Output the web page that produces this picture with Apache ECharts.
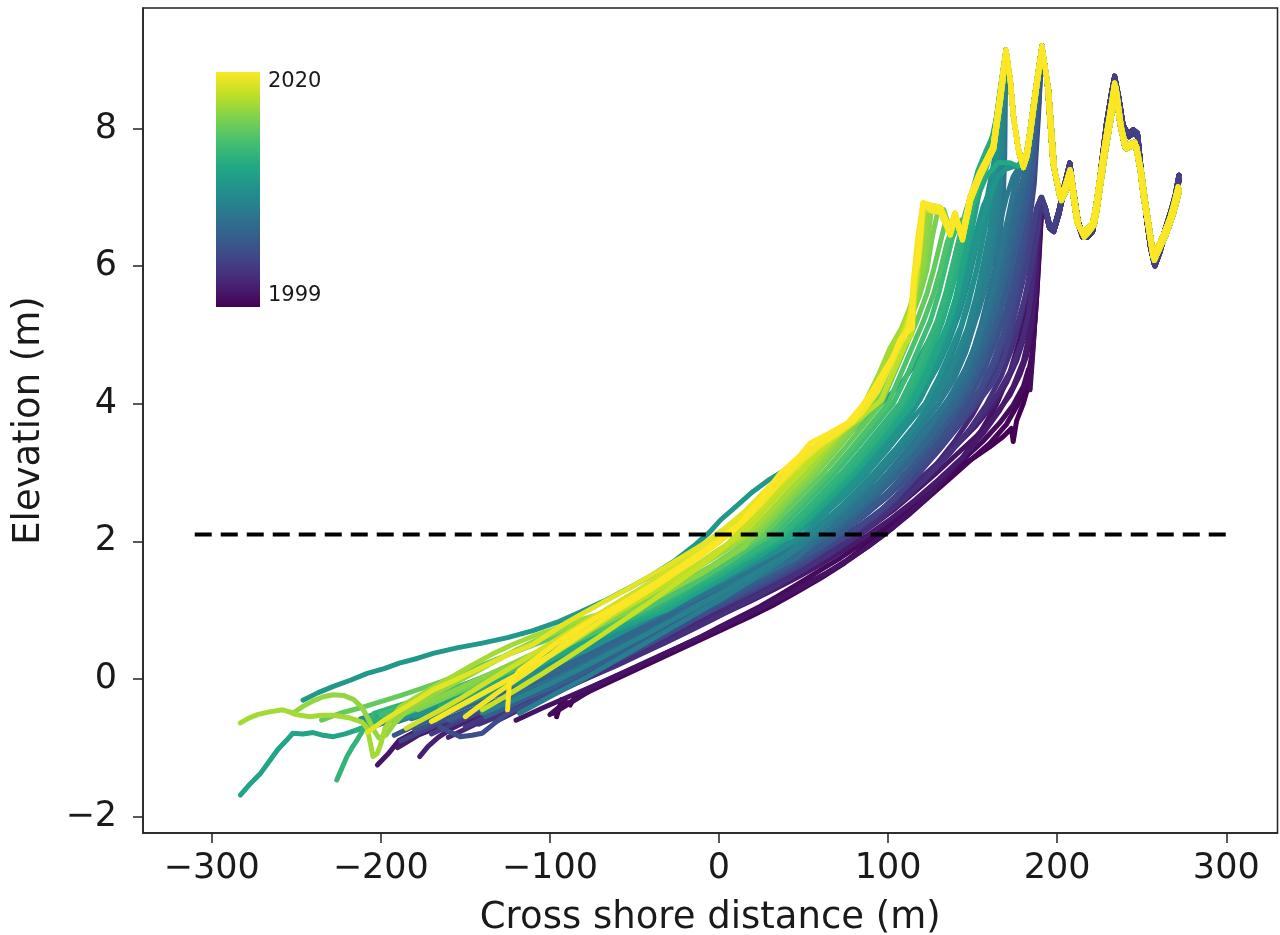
<!DOCTYPE html>
<html>
<head>
<meta charset="utf-8">
<script src="https://cdn.jsdelivr.net/npm/echarts@6/dist/echarts.min.js"></script>
<style>
html,body{margin:0;padding:0;background:#fff;}
#chart{width:1280px;height:935px;}
</style>
</head>
<body>
<div id="chart"></div>
<script>
// ---- axis ticks ----
const xTicks = [-300, -200, -100, 0, 100, 200, 300];
const yTicks = [-2, 0, 2, 4, 6, 8];
const yearRange = [1999, 2020];
// ---- reference (dashed) level ----
const refLevel = [[-310, 2.1], [300, 2.1]];

// ---- shared dune segments (read from the common upper profile) ----
const duneFace = [[126,6.88],[131,6.85],[136.6,6.53],[139.6,6.77],[143.7,6.43],[148.4,7.0],[154,7.35],[162,7.73],[166,8.46],[169.7,9.14]];
const duneFaceB = [[126,6.8],[131,6.78],[136.8,6.45],[139.8,6.7],[144,6.38],[148.8,6.95],[154.5,7.3],[162.5,7.7],[166.5,8.4],[170,9.1]];
const duneCrest = [[172,8.75],[174,8.2],[177,7.7],[179.8,7.5],[182,7.65],[184,7.98],[186,8.35],[188,8.7],[191,9.2]];
const duneCrestB = [[172.3,8.7],[174.3,8.15],[177.3,7.65],[180,7.43],[182.3,7.6],[184.3,7.93],[186.3,8.3],[188.3,8.66],[191.2,9.15]];
const tailNew = [[194,8.7],[197.5,7.5],[201.6,7.0],[204.5,7.15],[207.6,7.4],[209.5,7.0],[211.7,6.63],[215,6.48],[218,6.55],[221,6.63],[223,6.9],[225,7.25],[228,7.75],[231,8.2],[234,8.66],[237,8.08],[240,7.73],[243,7.78],[246,7.8],[249,7.4],[251,7.0],[253,6.7],[256.7,6.13],[260.8,6.34],[263.5,6.5],[266.7,6.7],[269,6.9],[271.5,7.15]];
const tailNewB = [[195,8.55],[198.5,7.4],[202.5,6.95],[205.5,7.1],[208.3,7.35],[210.5,6.95],[212.7,6.6],[216,6.42],[219,6.5],[222,6.6],[224,6.88],[226,7.22],[229,7.72],[232,8.15],[234.8,8.6],[238,8.02],[241,7.7],[244,7.74],[247,7.74],[250,7.35],[252,6.98],[254,6.65],[257.5,6.08],[261.5,6.3],[264.5,6.46],[267.5,6.66],[270,6.86],[272.3,7.1]];
const tailOld = [[193,6.85],[195.5,6.6],[198,6.55],[201,6.8],[204,7.15],[207.5,7.5],[210,7.05],[212.5,6.65],[215,6.45],[218,6.45],[221,6.55],[223.5,6.9],[226,7.45],[229,8.05],[232,8.5],[234,8.76],[236.5,8.45],[239,8.05],[242,7.92],[245,7.98],[247.5,7.93],[250,7.3],[252.5,6.75],[255,6.3],[257.5,6.02],[260.5,6.25],[264,6.55],[267.5,6.82],[270,7.05],[272,7.32]];
const tailOldB = [[193,6.8],[195.5,6.55],[198,6.5],[201,6.75],[204,7.08],[207.3,7.45],[210,7.0],[212.5,6.6],[215,6.42],[218,6.42],[221,6.5],[223.5,6.84],[226,7.38],[229,7.98],[232,8.44],[234.2,8.7],[236.7,8.4],[239.3,8.0],[242.3,7.88],[245.3,7.93],[247.8,7.88],[250.3,7.25],[252.8,6.7],[255.3,6.25],[257.8,6.0],[260.8,6.2],[264.3,6.5],[267.8,6.78],[270.3,7.0],[272.2,7.26]];

// ---- profiles (cross-shore distance m, elevation m), oldest first ----
const L01 = [[-96,-0.55],[-93,-0.3],[-88,-0.38],[-84,-0.22],[-78,-0.15],[-70,-0.06],[-60,0.05],[-50,0.16],[-40,0.27],[-31,0.38],[-20,0.5],[-10,0.6],[0,0.7],[8,0.81],[20,0.93],[30,1.05],[40,1.2],[48,1.34],[56,1.44],[64,1.54],[76,1.73],[85,1.9],[93,2.06],[100,2.18],[107,2.31],[115,2.5],[123,2.7],[132,2.9],[142,3.08],[151,3.22],[160,3.37],[168,3.52],[173,3.64],[174,3.45],[176,3.75],[180,4.0],[184,4.35],[186,4.9],[188,5.6],[189.5,6.3],[191,6.9]];
const L01b = [[-98,-0.5],[-90,-0.38],[-80,-0.22],[-66,-0.06],[-52,0.1],[-38,0.26],[-24,0.42],[-10,0.58],[4,0.74],[18,0.9],[32,1.07],[46,1.26],[60,1.46],[74,1.68],[88,1.92],[100,2.14],[112,2.38],[124,2.64],[136,2.9],[148,3.16],[160,3.42],[170,3.7],[177,4.0],[182,4.3],[185,4.7],[187.5,5.4],[189.5,6.2],[191,6.9]];
const L02 = [[-100,-0.52],[-94,-0.4],[-86,-0.32],[-78,-0.2],[-68,-0.05],[-58,0.06],[-46,0.2],[-34,0.34],[-22,0.48],[-10,0.62],[0,0.75],[12,0.9],[24,1.05],[36,1.22],[48,1.4],[60,1.58],[72,1.76],[84,1.96],[96,2.17],[108,2.4],[120,2.65],[132,2.92],[144,3.18],[156,3.45],[166,3.72],[174,3.98],[180,4.25],[183,4.5],[184,4.2],[185.5,4.7],[187,5.3],[188.5,6.0],[190,6.6],[191.5,6.95]];
const P01 = [[-120,-0.6],[-104,-0.42],[-88,-0.25],[-72,-0.08],[-56,0.1],[-40,0.28],[-24,0.46],[-8,0.64],[8,0.83],[24,1.02],[40,1.22],[56,1.43],[72,1.66],[88,1.92],[102,2.18],[116,2.48],[130,2.82],[143,3.18],[154,3.56],[164,3.98],[172,4.45],[178,4.95],[182.5,5.5],[186,6.1],[189,6.6],[191,6.95]];
const L03 = [[-202,-1.25],[-196,-1.1],[-189,-0.89],[-182,-0.8],[-172,-0.7],[-160,-0.6],[-148,-0.52],[-136,-0.42],[-124,-0.32],[-112,-0.22],[-100,-0.1],[-88,0.02],[-76,0.13],[-64,0.26],[-52,0.38],[-40,0.5],[-28,0.63],[-16,0.76],[-4,0.9],[8,1.04],[20,1.18],[32,1.33],[44,1.5],[56,1.67],[68,1.85],[80,2.04],[92,2.25],[104,2.47],[116,2.72],[128,2.98],[140,3.25],[152,3.52],[163,3.82],[172,4.12],[178,4.42],[182,4.7],[185,5.1],[187,5.7],[189,6.4],[190.5,6.95]];
const L03b = [[-190,-1.0],[-178,-0.82],[-164,-0.68],[-150,-0.56],[-136,-0.45],[-122,-0.33],[-108,-0.2],[-94,-0.07],[-80,0.06],[-66,0.2],[-52,0.35],[-38,0.5],[-24,0.65],[-10,0.8],[4,0.96],[18,1.12],[32,1.29],[46,1.47],[60,1.66],[74,1.87],[88,2.09],[102,2.33],[116,2.6],[130,2.9],[144,3.22],[156,3.56],[166,3.9],[174,4.25],[180,4.62],[184,5.05],[187,5.6],[189,6.3],[190.8,6.95]];
const L04 = [[-177,-1.13],[-172,-0.98],[-166,-0.85],[-158,-0.72],[-148,-0.6],[-136,-0.48],[-124,-0.36],[-112,-0.24],[-100,-0.12],[-88,0.0],[-76,0.12],[-64,0.25],[-52,0.39],[-40,0.53],[-28,0.67],[-16,0.81],[-4,0.96],[8,1.11],[20,1.27],[32,1.43],[44,1.6],[56,1.78],[68,1.97],[80,2.17],[92,2.38],[104,2.6],[116,2.85],[128,3.1],[140,3.38],[152,3.68],[162,3.98],[170,4.3],[176,4.62],[181,5.0],[184.5,5.5],[187,6.1],[189,6.6],[190.5,6.95]];
const P02 = [[-160,-0.85],[-144,-0.66],[-128,-0.48],[-112,-0.32],[-96,-0.16],[-80,0.0],[-64,0.17],[-48,0.35],[-32,0.53],[-16,0.72],[0,0.92],[16,1.12],[32,1.33],[48,1.55],[64,1.79],[80,2.05],[96,2.34],[112,2.68],[126,3.04],[139,3.44],[150,3.84],[159,4.25],[167,4.7],[174,5.2],[179,5.7],[183.5,6.2],[187,6.6],[190,6.95]];
const L05 = [[-132,-0.62],[-124,-0.52],[-116,-0.42],[-106,-0.31],[-96,-0.2],[-84,-0.06],[-72,0.08],[-60,0.22],[-48,0.36],[-36,0.5],[-24,0.65],[-12,0.8],[0,0.95],[12,1.1],[24,1.26],[36,1.43],[48,1.61],[60,1.8],[72,2.0],[84,2.21],[96,2.43],[108,2.67],[120,2.93],[132,3.2],[144,3.5],[155,3.82],[165,4.15],[173,4.5],[179,4.9],[183,5.3],[186,5.9],[188.5,6.5],[190,6.95]];
const L05b = [[-142,-0.66],[-130,-0.54],[-116,-0.4],[-102,-0.25],[-88,-0.1],[-74,0.05],[-60,0.2],[-46,0.36],[-32,0.52],[-18,0.69],[-4,0.86],[10,1.04],[24,1.22],[38,1.41],[52,1.61],[66,1.82],[80,2.05],[94,2.3],[108,2.58],[122,2.9],[136,3.26],[148,3.62],[158,3.98],[167,4.4],[174,4.85],[179,5.3],[183,5.8],[187,6.35],[190,6.9]];
const L06 = [[-150,-0.7],[-142,-0.6],[-132,-0.5],[-120,-0.38],[-108,-0.26],[-96,-0.13],[-84,0.0],[-72,0.14],[-60,0.28],[-48,0.43],[-36,0.58],[-24,0.74],[-12,0.9],[0,1.06],[12,1.22],[24,1.39],[36,1.57],[48,1.76],[60,1.96],[72,2.17],[84,2.39],[96,2.63],[108,2.88],[120,3.15],[132,3.44],[144,3.76],[154,4.08],[163,4.42],[171,4.8],[177,5.2],[182,5.65],[186,6.15],[189,6.6],[191,7.0]];
const L06b = [[-170,-0.8],[-156,-0.64],[-142,-0.5],[-128,-0.37],[-114,-0.24],[-100,-0.11],[-86,0.04],[-72,0.19],[-58,0.35],[-44,0.52],[-30,0.7],[-16,0.88],[-2,1.06],[12,1.25],[26,1.44],[40,1.64],[54,1.85],[68,2.07],[82,2.31],[96,2.58],[110,2.88],[124,3.22],[136,3.56],[147,3.92],[157,4.3],[165,4.72],[172,5.15],[177,5.6],[181,6.05],[185,6.5],[188,6.85],[190.5,7.0]];
const L07 = [[-188,-0.9],[-172,-0.72],[-156,-0.55],[-140,-0.4],[-124,-0.26],[-108,-0.12],[-94,-0.02],[-80,0.12],[-64,0.3],[-48,0.48],[-32,0.66],[-16,0.85],[0,1.04],[16,1.23],[32,1.43],[48,1.64],[62,1.86],[76,2.08],[90,2.32],[104,2.6],[118,2.98],[130,3.32],[142,3.68],[152,3.98],[162,4.3],[168,4.62],[172,5.0],[176,5.4],[179,5.75],[182,6.0],[185,6.45],[188,6.85],[190.5,7.0]];
const A01 = [[-158,-0.62],[-140,-0.45],[-120,-0.27],[-100,-0.09],[-80,0.12],[-60,0.34],[-40,0.58],[-20,0.82],[0,1.06],[20,1.3],[40,1.56],[60,1.84],[78,2.12],[96,2.46],[114,2.88],[130,3.32],[144,3.76],[155,4.18],[164,4.62],[171,5.1],[176,5.6],[180,6.1],[183.5,6.6],[186.5,7.2],[189,8.2],[191,9.2]];
const L08 = [[-165,-0.7],[-160,-0.76],[-153,-0.84],[-146,-0.82],[-140,-0.79],[-133,-0.65],[-125,-0.5],[-116,-0.4],[-106,-0.28],[-94,-0.14],[-82,0.0],[-70,0.15],[-58,0.3],[-46,0.45],[-34,0.6],[-22,0.76],[-10,0.92],[2,1.08],[14,1.25],[26,1.42],[38,1.6],[50,1.8],[62,1.98],[74,2.17],[86,2.38],[98,2.62],[110,2.88],[122,3.18],[134,3.5],[145,3.85],[154,4.2],[162,4.6],[168,5.0],[173,5.45],[177,5.9],[181,6.4],[184,6.9],[187,7.6],[189.5,8.5],[191,9.2]];
const L08b = [[-180,-0.75],[-166,-0.62],[-150,-0.48],[-134,-0.34],[-118,-0.2],[-102,-0.06],[-86,0.1],[-70,0.27],[-54,0.45],[-38,0.63],[-22,0.82],[-6,1.01],[10,1.2],[26,1.4],[42,1.62],[58,1.86],[72,2.1],[86,2.37],[100,2.66],[114,3.0],[127,3.36],[139,3.74],[149,4.12],[157,4.5],[164,4.92],[170,5.38],[175,5.85],[179,6.3],[182.5,6.8],[185.5,7.3],[188,8.0],[190,8.8],[191,9.2]];
const L09 = [[-192,-0.82],[-180,-0.68],[-166,-0.54],[-150,-0.4],[-134,-0.26],[-118,-0.12],[-102,0.02],[-86,0.18],[-70,0.36],[-54,0.54],[-38,0.72],[-22,0.9],[-6,1.08],[10,1.27],[26,1.47],[42,1.68],[56,1.88],[70,2.1],[84,2.36],[98,2.64],[111,3.0],[123,3.35],[134,3.68],[145,4.05],[153,4.4],[160,4.8],[165,5.2],[170,5.65],[174,6.05],[178,6.5],[181,6.95],[184,7.35],[187,8.0],[189.5,8.8],[191,9.2]];
const L09b = [[-160,-0.6],[-146,-0.46],[-130,-0.31],[-114,-0.16],[-98,0.0],[-82,0.17],[-66,0.35],[-50,0.53],[-34,0.72],[-18,0.91],[-2,1.1],[14,1.3],[30,1.5],[46,1.72],[60,1.92],[72,2.12],[86,2.4],[100,2.72],[113,3.06],[125,3.4],[136,3.76],[146,4.12],[154,4.5],[161,4.92],[167,5.38],[172,5.8],[176,6.25],[180,6.7],[183.5,7.15],[186.5,7.6],[189,8.4],[191,9.2]];
const L10 = [[-138,-0.55],[-126,-0.42],[-114,-0.28],[-100,-0.14],[-86,0.02],[-72,0.2],[-58,0.38],[-44,0.56],[-30,0.74],[-16,0.92],[-2,1.1],[12,1.3],[26,1.5],[40,1.7],[54,1.9],[67,2.1],[80,2.36],[93,2.66],[106,2.98],[118,3.32],[130,3.66],[141,4.0],[150,4.38],[157,4.8],[163,5.25],[168,5.7],[172,6.05],[176,6.5],[180,6.95],[183.5,7.4],[186.5,7.9],[189,8.6],[191,9.2]];
const L10b = [[-176,-0.62],[-162,-0.5],[-148,-0.37],[-134,-0.24],[-120,-0.1],[-106,0.04],[-92,0.19],[-78,0.35],[-64,0.52],[-50,0.69],[-36,0.86],[-22,1.03],[-8,1.2],[6,1.38],[20,1.56],[34,1.74],[48,1.93],[63,2.1],[77,2.36],[91,2.66],[104,2.98],[116,3.32],[128,3.66],[139,4.02],[148,4.4],[155,4.8],[161,5.22],[166,5.65],[170,6.05],[174,6.5],[178,6.95],[182,7.35],[185.5,7.75],[188.5,8.5],[191,9.2]];
const A02 = [[-168,-0.55],[-150,-0.4],[-130,-0.22],[-110,-0.03],[-90,0.18],[-70,0.4],[-50,0.63],[-30,0.86],[-10,1.1],[10,1.34],[30,1.6],[50,1.86],[66,2.1],[82,2.42],[98,2.78],[113,3.16],[127,3.56],[139,3.98],[149,4.42],[157,4.9],[164,5.4],[169,5.9],[173,6.35],[177,6.8],[181,7.25],[185,7.7],[188,8.4],[191,9.2]];
const L11 = [[-205,-0.7],[-192,-0.58],[-178,-0.47],[-164,-0.36],[-150,-0.24],[-136,-0.12],[-122,0.0],[-108,0.14],[-94,0.3],[-80,0.46],[-66,0.62],[-52,0.78],[-38,0.94],[-24,1.1],[-10,1.26],[4,1.42],[18,1.58],[32,1.74],[46,1.9],[60,2.06],[74,2.3],[88,2.6],[102,2.95],[114,3.3],[126,3.65],[137,4.0],[146,4.35],[153,4.75],[159,5.2],[164,5.6],[168,6.0],[172,6.45],[176,6.9],[180,7.3],[184,7.65],[187,8.3],[189.5,8.9],[191,9.2]];
const L11b = [[-150,-0.5],[-136,-0.38],[-122,-0.24],[-108,-0.1],[-94,0.05],[-80,0.21],[-66,0.38],[-52,0.55],[-38,0.72],[-24,0.9],[-10,1.07],[4,1.24],[18,1.41],[32,1.58],[46,1.76],[62,2.1],[76,2.36],[90,2.66],[103,3.0],[115,3.34],[126,3.68],[136,4.02],[145,4.38],[152,4.78],[158,5.2],[163,5.62],[167,6.05],[171,6.5],[174,6.95],[177,7.3]];
const L12 = [[-172,-0.52],[-158,-0.4],[-144,-0.27],[-130,-0.13],[-116,0.01],[-102,0.16],[-88,0.32],[-74,0.48],[-60,0.64],[-46,0.8],[-32,0.96],[-18,1.12],[-4,1.28],[10,1.44],[24,1.6],[38,1.77],[50,1.93],[61,2.1],[74,2.35],[87,2.64],[100,3.0],[112,3.35],[123,3.68],[134,4.0],[143,4.35],[150,4.75],[155,5.15],[159,5.55],[163,5.95],[166,6.4],[168,6.9],[169,7.6],[169.7,9.14]];
const A03 = [[-182,-0.58],[-162,-0.42],[-142,-0.24],[-122,-0.04],[-102,0.17],[-82,0.4],[-62,0.64],[-42,0.88],[-22,1.12],[-2,1.36],[18,1.6],[38,1.86],[58,2.14],[76,2.46],[94,2.84],[110,3.24],[124,3.66],[136,4.08],[146,4.52],[154,5.0],[160,5.5],[165,6.0],[169,6.5],[173,6.95],[176,7.3],[178.5,7.45]];
const L12b = [[-190,-0.62],[-176,-0.5],[-162,-0.38],[-148,-0.25],[-134,-0.12],[-120,0.02],[-106,0.17],[-92,0.33],[-78,0.5],[-64,0.67],[-50,0.84],[-36,1.01],[-22,1.18],[-8,1.35],[6,1.52],[20,1.7],[34,1.88],[47,2.05],[59,2.22],[72,2.5],[85,2.8],[98,3.14],[110,3.48],[121,3.82],[131,4.16],[140,4.52],[147,4.9],[153,5.3],[158,5.72],[162,6.15],[166,6.6],[170,7.0],[174,7.3],[177,7.42]];
const L13 = [[-118,-0.5],[-106,-0.34],[-94,-0.18],[-80,0.0],[-66,0.2],[-52,0.4],[-38,0.6],[-24,0.8],[-10,1.0],[4,1.2],[18,1.42],[32,1.64],[45,1.86],[57,2.1],[70,2.38],[83,2.66],[96,3.0],[108,3.34],[119,3.66],[130,4.0],[139,4.35],[146,4.75],[151,5.15],[156,5.6],[160,6.0],[163,6.45],[166,7.0],[168,7.6],[169.7,9.14]];
const L13b = [[-140,-0.5],[-126,-0.36],[-112,-0.21],[-98,-0.05],[-84,0.12],[-70,0.3],[-56,0.48],[-42,0.66],[-28,0.85],[-14,1.04],[0,1.23],[14,1.43],[28,1.63],[42,1.84],[55,2.1],[68,2.38],[81,2.68],[94,3.0],[106,3.34],[117,3.68],[127,4.02],[136,4.38],[143,4.78],[149,5.2],[154,5.62],[158,6.05],[162,6.5],[165,7.0],[167.5,7.6],[168.5,8.3],[169.7,9.14]];
const A04 = [[-176,-0.5],[-156,-0.33],[-136,-0.14],[-116,0.06],[-96,0.28],[-76,0.5],[-56,0.74],[-36,0.98],[-16,1.22],[4,1.46],[24,1.72],[44,1.98],[54,2.12],[70,2.44],[86,2.8],[101,3.2],[114,3.6],[125,4.02],[134,4.46],[141,4.92],[147,5.4],[152,5.9],[156,6.4],[160,6.9],[163.5,7.4],[166.5,8.0],[168.5,8.6],[170,9.1]];
const L14 = [[-212,-0.58],[-204,-0.52],[-194,-0.5],[-182,-0.45],[-170,-0.38],[-158,-0.28],[-146,-0.17],[-134,-0.05],[-120,0.1],[-106,0.26],[-92,0.42],[-78,0.58],[-64,0.74],[-50,0.88],[-36,1.04],[-22,1.2],[-8,1.37],[6,1.53],[20,1.7],[34,1.87],[46,2.0],[56,2.14],[68,2.4],[80,2.7],[92,3.0],[104,3.33],[115,3.66],[126,4.0],[134,4.35],[141,4.72],[147,5.1],[152,5.55],[156,6.0],[160,6.5],[163,7.0],[166,7.6],[169.7,9.14]];
const L14b = [[-198,-0.64],[-184,-0.52],[-170,-0.4],[-156,-0.27],[-142,-0.13],[-128,0.02],[-114,0.17],[-100,0.33],[-86,0.5],[-72,0.67],[-58,0.84],[-44,1.01],[-30,1.19],[-16,1.37],[-2,1.56],[12,1.76],[26,1.96],[38,2.12],[50,2.34],[62,2.6],[74,2.88],[86,3.18],[98,3.5],[109,3.82],[120,4.16],[129,4.52],[136,4.9],[142,5.3],[147,5.72],[151,6.15],[155,6.6],[159,7.05],[162.5,7.5],[165.5,8.0],[168,8.6],[169.7,9.14]];
const L15 = [[-160,-0.45],[-146,-0.32],[-132,-0.18],[-118,-0.04],[-104,0.12],[-90,0.28],[-76,0.45],[-62,0.62],[-48,0.8],[-34,0.98],[-20,1.16],[-6,1.34],[8,1.52],[22,1.7],[36,1.88],[50,2.1],[63,2.4],[76,2.7],[88,3.0],[100,3.34],[111,3.68],[122,4.0],[130,4.38],[137,4.78],[143,5.12],[148,5.55],[153,6.0],[157,6.5],[161,7.05],[164,7.6],[166,8.3],[169.7,9.14]];
const A05 = [[-188,-0.58],[-168,-0.4],[-148,-0.2],[-128,0.0],[-108,0.22],[-88,0.45],[-68,0.69],[-48,0.93],[-28,1.17],[-8,1.42],[12,1.68],[32,1.94],[48,2.16],[64,2.48],[80,2.84],[95,3.24],[108,3.64],[119,4.06],[128,4.5],[135,4.96],[141,5.44],[146,5.92],[151,6.4],[156,6.85],[162,7.2],[169,7.4],[175,7.45]];
const L15b = [[-180,-0.55],[-166,-0.42],[-152,-0.28],[-138,-0.14],[-124,0.0],[-110,0.15],[-96,0.31],[-82,0.48],[-68,0.65],[-54,0.83],[-40,1.01],[-26,1.2],[-12,1.39],[2,1.58],[16,1.77],[30,1.95],[45,2.12],[58,2.4],[71,2.7],[84,3.02],[96,3.36],[107,3.7],[117,4.04],[126,4.4],[133,4.78],[139,5.18],[144,5.6],[149,6.05],[154,6.5],[159,6.95],[165,7.3],[171,7.45],[176,7.45]];
const L16 = [[-246,-0.31],[-237,-0.2],[-228,-0.11],[-218,-0.02],[-208,0.08],[-198,0.15],[-189,0.23],[-178,0.3],[-169,0.37],[-155,0.45],[-140,0.52],[-125,0.6],[-110,0.7],[-96,0.82],[-82,0.97],[-68,1.13],[-54,1.31],[-40,1.5],[-26,1.72],[-14,1.95],[-6,2.12],[1,2.31],[8,2.46],[20,2.72],[30,2.9],[40,3.05],[50,3.22],[62,3.36],[75,3.53],[86,3.75],[96,4.0],[108,4.3],[118,4.65],[127,5.05],[135,5.5],[141,5.95],[147,6.45],[152,6.95],[157,7.4],[161,7.7],[165,8.2],[169.7,9.14]];
const A06 = [[-210,-0.62],[-190,-0.45],[-170,-0.27],[-150,-0.08],[-130,0.12],[-110,0.33],[-90,0.55],[-70,0.78],[-50,1.01],[-30,1.24],[-10,1.48],[10,1.72],[30,1.96],[42,2.12],[58,2.46],[73,2.82],[88,3.22],[101,3.62],[112,4.04],[121,4.48],[128,4.94],[134,5.42],[139,5.92],[144,6.42],[149,6.9],[154,7.3],[159,7.6],[164,8.05],[167,8.6],[169.7,9.14]];
const L17 = [[-200,-0.6],[-186,-0.46],[-172,-0.32],[-158,-0.2],[-144,-0.1],[-130,0.0],[-116,0.14],[-102,0.28],[-88,0.42],[-74,0.57],[-60,0.72],[-46,0.86],[-31,1.0],[-18,1.18],[-4,1.38],[10,1.58],[22,1.76],[34,1.94],[44,2.1],[56,2.38],[68,2.68],[81,3.0],[93,3.34],[104,3.67],[115,4.0],[123,4.38],[130,4.78],[136,5.15],[141,5.55],[145,6.0],[149,6.45],[153,6.95],[157,7.4],[161,7.7],[165,8.3],[169.7,9.14]];
const L18 = [[-283,-1.69],[-277,-1.52],[-271,-1.37],[-266,-1.2],[-261,-1.03],[-256,-0.9],[-252,-0.79],[-246,-0.8],[-240,-0.78],[-234,-0.82],[-228,-0.84],[-221,-0.8],[-214,-0.74],[-206,-0.68],[-198,-0.6],[-188,-0.52],[-176,-0.42],[-164,-0.3],[-152,-0.18],[-140,-0.06],[-126,0.08],[-112,0.22],[-98,0.37],[-84,0.52],[-70,0.67],[-56,0.8],[-44,0.9],[-32,1.0],[-20,1.18],[-8,1.36],[4,1.55],[16,1.74],[28,1.9],[43,2.1],[55,2.38],[67,2.68],[80,3.0],[92,3.34],[103,3.67],[114,4.0],[122,4.4],[129,4.8],[135,5.15],[140,5.55],[144,6.0],[148,6.5],[152,7.0],[156,7.4],[160,7.7],[164,8.15],[169.7,9.14]];
const L17b = [[-165,-0.4],[-151,-0.26],[-137,-0.12],[-123,0.03],[-109,0.18],[-95,0.34],[-81,0.51],[-67,0.68],[-53,0.85],[-39,1.02],[-25,1.2],[-11,1.38],[3,1.56],[17,1.75],[30,1.93],[42,2.1],[54,2.38],[66,2.68],[78,3.0],[90,3.34],[101,3.67],[111,4.0],[119,4.38],[126,4.78],[132,5.18],[137,5.6],[142,6.05],[147,6.5],[152,6.95],[158,7.3],[165,7.5],[172,7.5],[177,7.45]];
const L19 = [[-215,-0.75],[-202,-0.62],[-188,-0.5],[-174,-0.37],[-160,-0.24],[-146,-0.1],[-132,0.04],[-118,0.19],[-104,0.34],[-90,0.5],[-76,0.66],[-62,0.8],[-48,0.91],[-36,1.0],[-24,1.17],[-12,1.34],[0,1.5],[13,1.7],[26,1.9],[39,2.1],[51,2.38],[63,2.68],[76,3.0],[88,3.34],[99,3.67],[110,4.0],[118,4.4],[125,4.8],[132,5.2],[137,5.6],[141,6.0],[145,6.5],[149,7.0],[153,7.38],[158,7.68],[163,7.95],[166.5,8.6],[169.7,9.14]];
const A07 = [[-205,-0.6],[-185,-0.43],[-165,-0.25],[-145,-0.06],[-125,0.14],[-105,0.35],[-85,0.57],[-65,0.79],[-45,1.02],[-25,1.26],[-5,1.5],[15,1.76],[35,2.04],[50,2.36],[65,2.72],[80,3.1],[94,3.5],[106,3.9],[116,4.32],[124,4.76],[131,5.22],[137,5.7],[142,6.18],[147,6.64],[152,7.04],[158,7.42],[163,7.8],[167,8.5],[170,9.1]];
const L20 = [[-226,-1.47],[-223,-1.3],[-220,-1.13],[-217,-1.0],[-214,-0.89],[-209,-0.68],[-204,-0.5],[-194,-0.42],[-182,-0.33],[-170,-0.24],[-156,-0.13],[-142,-0.01],[-128,0.12],[-114,0.26],[-100,0.4],[-86,0.55],[-72,0.7],[-56,0.85],[-39,1.02],[-26,1.2],[-13,1.38],[0,1.56],[12,1.74],[24,1.92],[37,2.1],[49,2.4],[61,2.7],[73,3.0],[85,3.34],[96,3.67],[107,4.0],[115,4.4],[122,4.8],[129,5.2],[134,5.6],[138,6.0],[142,6.4],[146,6.8],[150,7.1],[155,7.38],[162,7.73],[166,8.46],[169.7,9.14]];
const L20b = [[-200,-0.52],[-186,-0.4],[-172,-0.28],[-158,-0.15],[-144,-0.02],[-130,0.12],[-116,0.27],[-102,0.42],[-88,0.58],[-74,0.74],[-60,0.88],[-46,1.0],[-33,1.18],[-20,1.36],[-7,1.55],[6,1.74],[19,1.93],[33,2.1],[45,2.4],[57,2.7],[69,3.0],[81,3.34],[92,3.67],[103,4.0],[111,4.4],[118,4.8],[125,5.2],[130,5.6],[134,6.0],[138,6.4],[141,6.6],[145,6.7],[149,7.0],[155,7.38],[162,7.73],[166,8.46],[169.7,9.14]];
const L21 = [[-190,-0.55],[-178,-0.43],[-164,-0.3],[-150,-0.16],[-136,-0.02],[-122,0.13],[-108,0.28],[-94,0.44],[-80,0.6],[-66,0.76],[-54,0.9],[-45,1.0],[-32,1.16],[-19,1.33],[-6,1.52],[6,1.7],[18,1.9],[30,2.1],[42,2.4],[54,2.7],[66,3.0],[78,3.34],[89,3.67],[100,4.0],[107,4.4],[114,4.8],[121,5.2],[127,5.6],[131,5.95],[135,6.35],[139,6.6],[143,6.55],[147,6.8],[151,7.15],[156,7.45],[162,7.73],[166,8.46],[169.7,9.14]];
const L22 = [[-235,-0.6],[-224,-0.5],[-212,-0.42],[-200,-0.33],[-188,-0.24],[-176,-0.14],[-164,-0.04],[-152,0.08],[-140,0.2],[-126,0.34],[-112,0.47],[-98,0.6],[-84,0.73],[-70,0.86],[-58,0.96],[-48,1.05],[-36,1.2],[-24,1.36],[-12,1.52],[0,1.7],[14,1.9],[27,2.1],[38,2.4],[50,2.7],[62,3.0],[74,3.34],[85,3.67],[96,4.0],[103,4.4],[110,4.8],[117,5.2],[123,5.6],[127,5.95],[131,6.35],[134,6.65],[137,6.55],[140,6.72],[144,6.48],[148.4,7.0],[154,7.35],[162,7.73],[166,8.46],[169.7,9.14]];
const L23 = [[-178,-0.45],[-166,-0.32],[-154,-0.18],[-140,-0.02],[-126,0.14],[-112,0.3],[-98,0.46],[-84,0.62],[-70,0.78],[-60,0.9],[-52,1.0],[-40,1.16],[-28,1.32],[-16,1.48],[-4,1.65],[9,1.86],[23,2.1],[35,2.4],[46,2.7],[58,3.0],[70,3.34],[81,3.67],[92,4.0],[99,4.4],[106,4.8],[113,5.2],[119,5.6],[123,5.95],[126,6.4],[129,6.75],[133,6.82],[136.6,6.53],[139.6,6.77],[143.7,6.43],[148.4,7.0],[154,7.35],[162,7.73],[166,8.46],[169.7,9.14]];
const L23b = [[-195,-0.6],[-182,-0.45],[-168,-0.3],[-154,-0.14],[-140,0.02],[-126,0.18],[-112,0.34],[-98,0.5],[-84,0.66],[-70,0.82],[-58,0.94],[-48,1.03],[-36,1.19],[-24,1.35],[-11,1.52],[2,1.72],[15,1.92],[21,2.1],[33,2.4],[44,2.7],[56,3.0],[68,3.34],[79,3.67],[90,4.0],[98,4.4],[105,4.8],[111,5.15],[117,5.55],[121,5.95],[124,6.45],[125.5,6.8]];
const L24 = [[-252,-0.5],[-246,-0.4],[-240,-0.32],[-234,-0.26],[-228,-0.23],[-222,-0.24],[-216,-0.3],[-211,-0.42],[-207,-0.6],[-204,-0.75],[-201,-0.86],[-197,-0.82],[-192,-0.65],[-186,-0.5],[-178,-0.36],[-168,-0.22],[-156,-0.06],[-144,0.1],[-132,0.26],[-120,0.42],[-108,0.56],[-96,0.68],[-84,0.8],[-70,0.92],[-56,1.02],[-44,1.18],[-32,1.34],[-20,1.5],[-7,1.7],[6,1.9],[19,2.1],[31,2.4],[42,2.7],[54,3.0],[66,3.34],[77,3.67],[88,4.0],[96,4.4],[103,4.8],[110,5.2],[116,5.6],[120,6.0],[122.5,6.55],[124.5,6.85]];
const L25 = [[-283,-0.64],[-278,-0.57],[-273,-0.52],[-266,-0.48],[-258,-0.45],[-254,-0.48],[-250,-0.52],[-242,-0.55],[-235,-0.53],[-228,-0.53],[-218,-0.57],[-211,-0.63],[-208,-0.72],[-206,-0.95],[-204.6,-1.13],[-202,-1.08],[-200,-0.95],[-197.5,-0.72],[-193,-0.55],[-188.6,-0.41],[-180,-0.28],[-170,-0.14],[-158,0.03],[-146,0.2],[-134,0.36],[-122,0.5],[-110,0.62],[-98,0.72],[-86,0.83],[-72,0.93],[-57,1.02],[-45,1.18],[-33,1.34],[-21,1.5],[-8,1.7],[4,1.9],[17,2.1],[29,2.4],[40,2.7],[52,3.0],[64,3.34],[75,3.67],[86,4.0],[94,4.4],[101,4.8],[108,5.1],[113,5.4],[117,5.8],[119.5,6.3],[121.5,6.85]];
const L26 = [[-168,-0.6],[-158,-0.46],[-146,-0.3],[-134,-0.14],[-122,0.02],[-110,0.18],[-98,0.36],[-86,0.55],[-74,0.74],[-61,0.95],[-50,1.1],[-38,1.28],[-26,1.46],[-13,1.66],[0,1.88],[14,2.1],[25,2.4],[36,2.7],[48,3.0],[60,3.3],[72,3.58],[84,3.8],[96,4.05],[104,4.5],[110,4.85],[114,5.0],[116,5.6],[118.5,6.2],[121,6.85]];
const L27b = [[-140,-0.45],[-128,-0.28],[-116,-0.1],[-104,0.08],[-92,0.27],[-80,0.46],[-68,0.66],[-56,0.86],[-44,1.06],[-32,1.27],[-20,1.48],[-8,1.7],[4,1.93],[10,2.1],[22,2.4],[34,2.72],[46,3.05],[58,3.32],[70,3.55],[82,3.82],[93,4.18],[101,4.58],[108,4.98],[113,5.3],[116.5,5.9],[119,6.5],[121,6.82]];
const L27 = [[-185,-0.72],[-176,-0.6],[-166,-0.47],[-154,-0.3],[-142,-0.12],[-130,0.06],[-118,0.24],[-106,0.42],[-94,0.6],[-82,0.78],[-70,0.96],[-58,1.14],[-46,1.32],[-34,1.51],[-22,1.7],[-10,1.9],[2,2.1],[14,2.32],[26,2.58],[38,2.88],[50,3.18],[62,3.42],[74,3.62],[86,3.9],[96,4.28],[104,4.68],[110,5.05],[115,5.5],[118.5,6.15],[121,6.85]];
const L28 = [[-208,-0.78],[-198,-0.6],[-188,-0.45],[-178,-0.3],[-169,-0.16],[-158,-0.04],[-146,0.1],[-134,0.24],[-122,0.38],[-110,0.5],[-100,0.66],[-90,0.82],[-80,0.96],[-68,1.12],[-56,1.28],[-44,1.45],[-32,1.62],[-20,1.8],[-8,1.98],[4,2.2],[16,2.45],[28,2.75],[40,3.05],[52,3.3],[64,3.5],[76,3.7],[88,4.0],[98,4.4],[106,4.8],[112,5.1],[115,5.6],[118,6.3],[120.6,6.9]];
const L29 = [[-150,-0.55],[-142,-0.4],[-132,-0.22],[-122,-0.05],[-112,0.12],[-102,0.3],[-92,0.5],[-82,0.72],[-72,0.9],[-60,1.06],[-48,1.24],[-36,1.42],[-24,1.62],[-12,1.82],[0,2.03],[12,2.26],[24,2.52],[36,2.85],[48,3.15],[60,3.4],[72,3.6],[84,3.85],[94,4.18],[102,4.6],[108,4.95],[113,5.15],[115,5.8],[117.5,6.4],[120.6,6.92]];
const L29b = [[-170,-0.62],[-160,-0.48],[-148,-0.32],[-136,-0.16],[-124,0.0],[-112,0.16],[-100,0.34],[-88,0.54],[-76,0.74],[-64,0.94],[-52,1.12],[-40,1.3],[-28,1.5],[-16,1.7],[-4,1.91],[8,2.14],[20,2.42],[32,2.76],[44,3.1],[56,3.36],[68,3.54],[80,3.75],[90,4.1],[99,4.5],[106,4.85],[111,5.05],[114,5.3],[116,5.95],[118.5,6.5],[120.8,6.9]];
const L30 = [[-125,-0.45],[-124.5,-0.25],[-124,-0.08],[-118,0.12],[-108,0.3],[-96,0.52],[-84,0.72],[-72,0.9],[-60,1.06],[-48,1.22],[-36,1.4],[-24,1.6],[-12,1.8],[0,2.0],[12,2.25],[24,2.6],[36,2.98],[48,3.25],[54,3.43],[66,3.58],[76,3.72],[84,3.95],[91,4.2],[97,4.45],[103,4.68],[107,4.93],[112,5.05],[114.5,5.1],[115,5.8],[117.7,6.05],[119.5,6.5],[120.6,6.92]];

const profileLines = [L01,L01b,L02,P01,L03,L03b,L04,P02,L05,L05b,L06,L06b,L07,A01,L08,L08b,L09,L09b,L10,L10b,A02,L11,L11b,L12,A03,L12b,L13,L13b,A04,L14,L14b,L15,A05,L15b,L16,A06,L17,L18,L17b,L19,A07,L20,L20b,L21,L22,L23,L23b,L24,L25,L26,L27b,L27,L28,L29,L29b,L30];
const profileYears = [1999.0,1999.3,1999.6,2000.0,2000.2,2000.5,2000.8,2001.2,2001.5,2001.9,2002.3,2002.7,2003.0,2003.4,2003.8,2004.2,2004.6,2005.0,2005.4,2005.8,2006.0,2006.2,2006.6,2007.0,2007.2,2007.4,2007.8,2008.2,2008.4,2008.6,2009.0,2009.4,2009.6,2009.8,2010.1,2010.5,2010.9,2011.2,2011.6,2012.0,2012.3,2012.7,2013.3,2014.1,2015.0,2015.8,2016.2,2016.6,2017.1,2017.9,2018.2,2018.5,2019.1,2019.6,2019.8,2020.0];
const profileEnds = ['old','oldB','old','oldB','oldB','old','oldB','old','old','oldB','old','oldB','old','blueB','blue','blueB','blue','blueB','blue','blueB','blue','blue','valley','teal','valley','valley','tealB','teal','tealB','tealB','teal','tealB','valley','valley','teal','teal','tealB','teal','valley','tealB','tealB','teal','tealB','teal','tealB','teal','newB','new','newB','new','newB','new','newB','new','newB','new'];

// ---- colour map ----
const VIRIDIS = ['#440154','#482475','#414487','#355f8d','#2a788e','#21918c','#22a884','#44bf70','#7ad151','#bddf26','#fde725'];
function hexToRgb(h){return [parseInt(h.slice(1,3),16),parseInt(h.slice(3,5),16),parseInt(h.slice(5,7),16)];}
function viridis(t){
  t = Math.max(0, Math.min(1, t));
  const s = t * (VIRIDIS.length - 1);
  const i = Math.min(Math.floor(s), VIRIDIS.length - 2);
  const f = s - i;
  const a = hexToRgb(VIRIDIS[i]), b = hexToRgb(VIRIDIS[i+1]);
  const c = a.map((v,k)=>Math.round(v + (b[k]-v)*f));
  return 'rgb(' + c.join(',') + ')';
}
function endSegment(kind){
  switch (kind) {
    case 'old': return tailOld;
    case 'oldB': return tailOldB;
    case 'blue': return tailNew;
    case 'blueB': return tailNewB;
    case 'valley': return duneCrest.slice(3).concat(tailNew);
    case 'teal': return duneCrest.concat(tailNew);
    case 'tealB': return duneCrestB.concat(tailNewB);
    case 'newB': return duneFaceB.concat(duneCrestB, tailNewB);
    default: return duneFace.concat(duneCrest, tailNew);
  }
}

const series = profileLines.map((pts, i) => ({
  type: 'line',
  data: pts.concat(endSegment(profileEnds[i])),
  showSymbol: false,
  symbol: 'none',
  silent: true,
  animation: false,
  z: 2,
  lineStyle: { width: 5, color: viridis((profileYears[i] - yearRange[0]) / (yearRange[1] - yearRange[0])), join: 'round', cap: 'round' }
}));
series.push({
  type: 'line',
  data: refLevel,
  showSymbol: false,
  symbol: 'none',
  silent: true,
  animation: false,
  z: 5,
  lineStyle: { width: 4, color: '#000', type: [17, 9] }
});

const txt = '#1a1a1a';
const fontFam = '"DejaVu Sans", sans-serif';
const minus = v => String(v).replace('-', '\u2212');

const chart = echarts.init(document.getElementById('chart'), null, { renderer: 'canvas' });
chart.setOption({
  animation: false,
  backgroundColor: '#ffffff',
  grid: { left: 143, top: 8, right: 2.5, bottom: 102, show: true, borderColor: '#222', borderWidth: 1.5, backgroundColor: 'transparent', containLabel: false, outerBoundsMode: 'none' },
  xAxis: {
    type: 'value', min: -340.6, max: 330.3,
    name: 'Cross shore distance (m)', nameLocation: 'middle', nameGap: 67,
    nameTextStyle: { fontSize: 37, fontFamily: fontFam, color: txt },
    axisLine: { show: true, onZero: false, lineStyle: { color: '#222', width: 1.5 } },
    axisTick: { show: true, length: 10, lineStyle: { color: '#222', width: 1.5 }, customValues: xTicks },
    axisLabel: { customValues: xTicks, formatter: minus, fontSize: 35, fontFamily: fontFam, color: txt, margin: 18 },
    splitLine: { show: false }
  },
  yAxis: {
    type: 'value', min: -2.24, max: 9.75,
    name: 'Elevation (m)', nameLocation: 'middle', nameGap: 95,
    nameTextStyle: { fontSize: 37, fontFamily: fontFam, color: txt },
    axisLine: { show: true, onZero: false, lineStyle: { color: '#222', width: 1.5 } },
    axisTick: { show: true, length: 10, lineStyle: { color: '#222', width: 1.5 }, customValues: yTicks },
    axisLabel: { customValues: yTicks, formatter: minus, fontSize: 35, fontFamily: fontFam, color: txt, margin: 26 },
    splitLine: { show: false }
  },
  graphic: [
    { type: 'rect', shape: { x: 216, y: 72, width: 44, height: 235 }, z: 100,
      style: { fill: new echarts.graphic.LinearGradient(0, 1, 0, 0, VIRIDIS.map((c, k) => ({ offset: k / (VIRIDIS.length - 1), color: c }))) } },
    { type: 'text', z: 100, style: { text: String(yearRange[1]), x: 268, y: 82, verticalAlign: 'middle', align: 'left', font: '21px "DejaVu Sans", sans-serif', fill: txt } },
    { type: 'text', z: 100, style: { text: String(yearRange[0]), x: 268, y: 296, verticalAlign: 'middle', align: 'left', font: '21px "DejaVu Sans", sans-serif', fill: txt } }
  ],
  series: series
});
</script>
</body>
</html>
